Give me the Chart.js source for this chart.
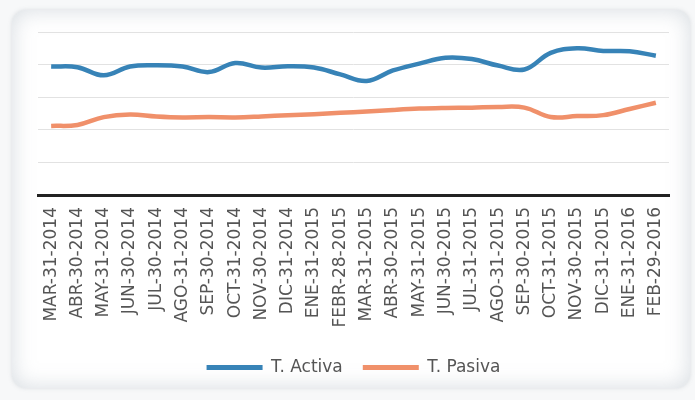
<!DOCTYPE html>
<html>
<head>
<meta charset="utf-8">
<script src="https://cdn.jsdelivr.net/npm/chart.js@4"></script>
<style>
  html, body { margin: 0; padding: 0; background: #f7f8f9; }
  body { width: 695px; height: 400px; position: relative; overflow: hidden; }
  #card {
    position: absolute; left: 12px; top: 10px; width: 678px; height: 378px;
    background: #fff; border-radius: 14px;
    box-shadow: inset 0 0 22px rgba(140,155,170,0.35), 0 0 4px rgba(150,160,170,0.3);
  }
  #chart { position: absolute; left: 0; top: 0; }
</style>
</head>
<body>
<div id="card"><canvas id="chart" width="678" height="378"></canvas></div>
<script>
// fechas de corte (eje x)
const LABELS = [
    'MAR-31-2014', 'ABR-30-2014', 'MAY-31-2014', 'JUN-30-2014', 'JUL-30-2014', 'AGO-31-2014',
    'SEP-30-2014', 'OCT-31-2014', 'NOV-30-2014', 'DIC-31-2014', 'ENE-31-2015', 'FEBR-28-2015',
    'MAR-31-2015', 'ABR-30-2015', 'MAY-31-2015', 'JUN-30-2015', 'JUL-31-2015', 'AGO-31-2015',
    'SEP-30-2015', 'OCT-31-2015', 'NOV-30-2015', 'DIC-31-2015', 'ENE-31-2016', 'FEB-29-2016'
];

// valores (sin escala visible)
const ACTIVA = [3.94, 3.92, 3.67, 3.94, 3.98, 3.94, 3.77, 4.05, 3.91, 3.95, 3.91, 3.70,
                3.50, 3.82, 4.03, 4.21, 4.17, 3.97, 3.85, 4.36, 4.50, 4.42, 4.41, 4.27];
const PASIVA = [2.12, 2.15, 2.39, 2.47, 2.41, 2.38, 2.39, 2.38, 2.41, 2.45, 2.48, 2.52,
                2.56, 2.61, 2.65, 2.67, 2.68, 2.70, 2.68, 2.39, 2.42, 2.45, 2.64, 2.83];

const Y_TICKS = [0, 1, 2, 3, 4, 5];

const BLUE = '#3783b7';
const ORANGE = '#f0906a';

const ctx = document.getElementById('chart').getContext('2d');

new Chart(ctx, {
    type: 'line',
    data: {
        labels: LABELS,
        datasets: [
            { label: 'T. Activa', data: ACTIVA, borderColor: BLUE, backgroundColor: BLUE,
              borderWidth: 4.5, pointRadius: 0, tension: 0.4 },
            { label: 'T. Pasiva', data: PASIVA, borderColor: ORANGE, backgroundColor: ORANGE,
              borderWidth: 4.5, pointRadius: 0, tension: 0.4 }
        ]
    },
    options: {
        responsive: false,
        animation: false,
        layout: { padding: { left: 26, right: 21, top: 22, bottom: 2 } },
        scales: {
            x: {
                offset: true,
                grid: { display: false },
                border: { color: '#222', width: 3 },
                ticks: {
                    autoSkip: false, maxRotation: 90, minRotation: 90, padding: 4,
                    color: '#555', font: { family: 'DejaVu Sans', size: 17 }
                },
                afterFit: s => { s.height = 144; }
            },
            y: {
                min: 0, max: 5,
                afterBuildTicks: s => { s.ticks = Y_TICKS.map(v => ({ value: v })); },
                ticks: { display: false },
                border: { display: false },
                grid: { color: '#e2e2e2', lineWidth: 1, drawTicks: false }
            }
        },
        plugins: {
            tooltip: { enabled: false },
            legend: {
                position: 'bottom',
                labels: {
                    boxWidth: 56, boxHeight: 5, padding: 20,
                    color: '#555', font: { family: 'DejaVu Sans', size: 17 },
                    generateLabels: chart => Chart.defaults.plugins.legend.labels.generateLabels(chart)
                        .map(l => ({ ...l, lineWidth: 0, fillStyle: l.strokeStyle }))
                }
            }
        }
    }
});
</script>
</body>
</html>
